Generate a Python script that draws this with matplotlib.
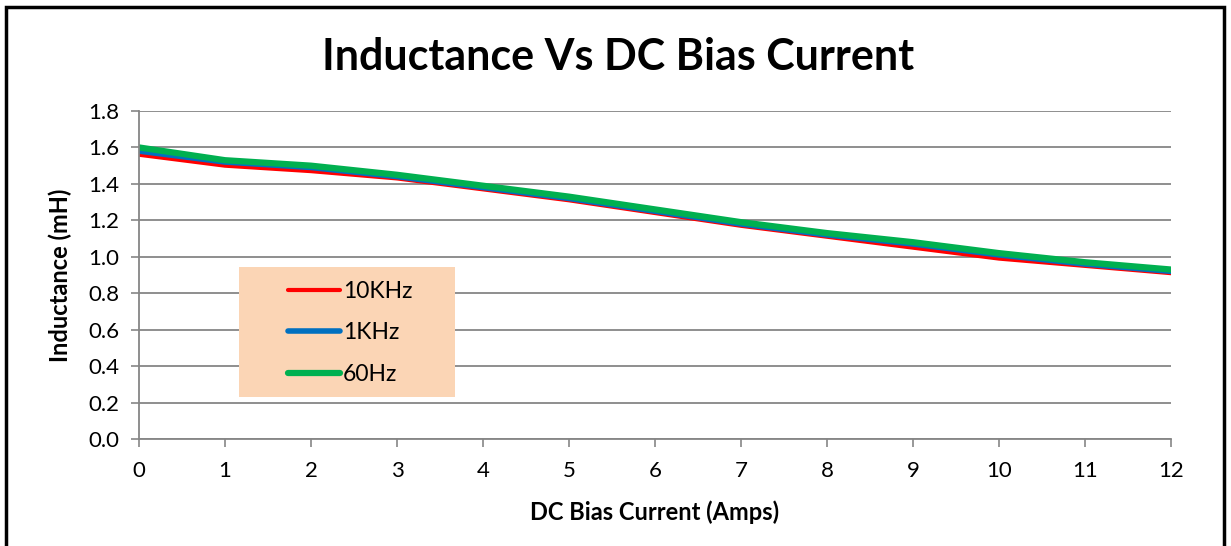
import matplotlib.pyplot as plt
from matplotlib.patches import Rectangle

plt.rcParams['font.family'] = ['Lato', 'DejaVu Sans']

current = [0, 1, 2, 3, 4, 5, 6, 7, 8, 9, 10, 11, 12]
l_10khz = [1.56, 1.50, 1.47, 1.43, 1.37, 1.31, 1.24, 1.17, 1.11, 1.05, 0.99, 0.95, 0.91]
l_1khz = [1.58, 1.52, 1.49, 1.44, 1.38, 1.32, 1.25, 1.18, 1.12, 1.07, 1.01, 0.96, 0.92]
l_60hz = [1.60, 1.53, 1.50, 1.45, 1.39, 1.33, 1.26, 1.19, 1.13, 1.08, 1.02, 0.97, 0.93]
yticks = [0.0, 0.2, 0.4, 0.6, 0.8, 1.0, 1.2, 1.4, 1.6, 1.8]

fig = plt.figure(figsize=(12.31, 5.46), dpi=100)
ax = fig.add_axes([0.1129, 0.196, 0.9513 - 0.1129, 0.7967 - 0.196])

# outer chart frame (bottom edge is cut off in the original)
fig.patches.append(Rectangle((0.005, -0.1), 0.9895, 1.088, transform=fig.transFigure,
                             fill=False, edgecolor='black', linewidth=2.5))

ax.plot(current, l_10khz, color='#FF0000', lw=3, label='10KHz', solid_capstyle='round')
ax.plot(current, l_1khz, color='#0070C0', lw=4, label='1KHz', solid_capstyle='round')
ax.plot(current, l_60hz, color='#00B050', lw=4.5, label='60Hz', solid_capstyle='round')

ax.set_xlim(0, 12)
ax.set_ylim(0, 1.8)
ax.set_xticks(current)
ax.set_yticks(yticks)
ax.set_yticklabels([f'{v:.1f}' for v in yticks])
ax.tick_params(axis='both', labelsize=16, colors='#868686', labelcolor='black',
               length=6, width=1.2)
ax.tick_params(axis='x', pad=10)
ax.tick_params(axis='y', pad=8)
ax.grid(axis='y', color='#868686', lw=1.3)
ax.set_axisbelow(True)
for s in ['top', 'right']:
    ax.spines[s].set_visible(False)
for s in ['left', 'bottom']:
    ax.spines[s].set_color('#868686')
    ax.spines[s].set_linewidth(1.3)

fig.text(0.502, 0.895, 'Inductance Vs DC Bias Current', ha='center', va='center',
         fontsize=31, fontweight='bold')
ax.set_xlabel('DC Bias Current (Amps)', fontsize=17, fontweight='bold', labelpad=14)
ax.set_ylabel('Inductance (mH)', fontsize=17, fontweight='bold', labelpad=12)

# legend box
ax.add_patch(Rectangle((239 / 1231, 1 - 397 / 546), 216 / 1231, 130 / 546,
                       transform=fig.transFigure, facecolor='#FBD5B5',
                       edgecolor='none', zorder=5, clip_on=False))
leg = ax.legend(loc='upper left', bbox_to_anchor=(267 / 1231, 1 - 260 / 546),
                bbox_transform=fig.transFigure, frameon=False, fontsize=16.5,
                handlelength=2.3, handletextpad=0.1, labelspacing=0.9)
leg.set_zorder(6)

fig.savefig('out.png', dpi=100)
